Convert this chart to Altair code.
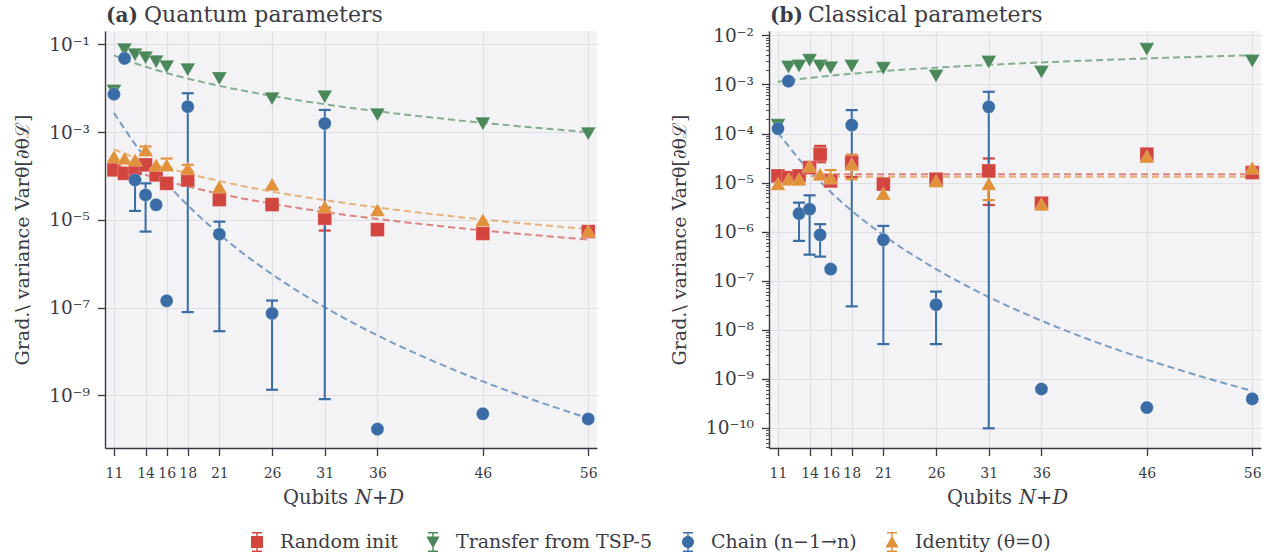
import altair as alt
import pandas as pd

# ---------------------------------------------------------------- data
QUBITS = [11, 12, 13, 14, 15, 16, 18, 21, 26, 31, 36, 46, 56]
X_TICKS = [11, 14, 16, 18, 21, 26, 31, 36, 46, 56]
FIT_QUBITS = [11, 13, 16, 21, 26, 31, 36, 41, 46, 51, 56]

METHODS = ["Random init", "Transfer from TSP-5", "Chain (n−1→n)", "Identity (θ=0)"]

# (a) quantum parameters: gradient variance per qubit count
A_RANDOM = [1.38e-4, 1.15e-4, 1.50e-4, 1.79e-4, 1.06e-4, 6.8e-5, 8.1e-5, 2.9e-5, 2.23e-5, 1.09e-5, 6.0e-6, 4.9e-6, 5.4e-6]
A_TRANSFER = [8.7e-3, 0.0757, 0.0582, 0.0498, 0.0404, 0.0310, 0.0265, 0.0166, 5.8e-3, 6.4e-3, 2.5e-3, 1.56e-3, 9.2e-4]
A_CHAIN = [7.3e-3, 0.048, 8.1e-5, 3.7e-5, 2.2e-5, 1.43e-7, 3.8e-3, 4.7e-6, 7.4e-8, 1.58e-3, 1.7e-10, 3.8e-10, 2.9e-10]
A_IDENTITY = [2.77e-4, 2.53e-4, 2.33e-4, 3.9e-4, 1.79e-4, 1.79e-4, 1.50e-4, 5.7e-5, 6.5e-5, 2.0e-5, 1.69e-5, 1.0e-5, 5.6e-6]

# error bars as (qubits, low, high)
A_RANDOM_ERR = [(31, 5.7e-6, 1.9e-5)]
A_TRANSFER_ERR = []
A_CHAIN_ERR = [(13, 1.6e-5, 1.1e-4), (14, 5.4e-6, 6.8e-5), (18, 7.9e-8, 7.7e-3),
               (21, 2.9e-8, 9.1e-6), (26, 1.34e-9, 1.45e-7), (31, 8.2e-10, 3.2e-3)]
A_IDENTITY_ERR = [(14, 3.2e-4, 4.7e-4), (16, 1.5e-4, 2.5e-4), (18, 1.3e-4, 1.8e-4)]

# fitted trends, sampled at FIT_QUBITS
A_RANDOM_FIT = [1.92e-4, 1.27e-4, 7.66e-5, 3.94e-5, 2.33e-5, 1.51e-5, 1.05e-5, 7.63e-6, 5.75e-6, 4.47e-6, 3.56e-6]
A_TRANSFER_FIT = [0.0562, 0.0372, 0.0222, 0.01135, 6.68e-3, 4.32e-3, 2.99e-3, 2.17e-3, 1.63e-3, 1.26e-3, 1.00e-3]
A_CHAIN_FIT = [2.75e-3, 5.32e-4, 6.87e-5, 4.72e-6, 5.75e-7, 1.02e-7, 2.33e-8, 6.48e-9, 2.08e-9, 7.55e-10, 3.01e-10]
A_IDENTITY_FIT = [4.04e-4, 2.63e-4, 1.54e-4, 7.67e-5, 4.42e-5, 2.82e-5, 1.92e-5, 1.37e-5, 1.02e-5, 7.84e-6, 6.17e-6]

# (b) classical parameters
B_RANDOM = [1.37e-5, 1.26e-5, 1.37e-5, 2.02e-5, 3.8e-5, 1.08e-5, 2.55e-5, 9.3e-6, 1.17e-5, 1.73e-5, 3.8e-6, 3.8e-5, 1.6e-5]
B_TRANSFER = [1.47e-4, 2.26e-3, 2.37e-3, 3.10e-3, 2.37e-3, 2.19e-3, 2.37e-3, 2.13e-3, 1.49e-3, 2.86e-3, 1.79e-3, 5.2e-3, 3.0e-3]
B_CHAIN = [1.26e-4, 1.17e-3, 2.34e-6, 2.87e-6, 8.6e-7, 1.73e-7, 1.49e-4, 6.8e-7, 3.24e-8, 3.5e-4, 6.2e-10, 2.6e-10, 3.9e-10]
B_IDENTITY = [9.5e-6, 1.17e-5, 1.17e-5, 2.19e-5, 1.48e-5, 1.26e-5, 2.37e-5, 6.0e-6, 1.08e-5, 9.5e-6, 3.6e-6, 3.4e-5, 2.0e-5]

B_RANDOM_ERR = [(15, 2.6e-5, 5.6e-5), (18, 1.3e-5, 3.5e-5), (31, 3.5e-6, 3.1e-5)]
B_TRANSFER_ERR = []
B_CHAIN_ERR = [(13, 6.5e-7, 3.9e-6), (14, 3.4e-7, 5.5e-6), (15, 3.1e-7, 1.42e-6), (18, 3.0e-8, 3.0e-4),
               (21, 5.1e-9, 1.31e-6), (26, 5.1e-9, 6.0e-8), (31, 9.8e-11, 7.1e-4)]
B_IDENTITY_ERR = [(16, 1.0e-5, 1.8e-5), (18, 1.17e-5, 3.7e-5), (31, 4.4e-6, 1.4e-5)]

B_RANDOM_FIT = [1.48e-5, 1.48e-5, 1.48e-5, 1.48e-5, 1.48e-5, 1.48e-5, 1.48e-5, 1.48e-5, 1.48e-5, 1.48e-5, 1.48e-5]
B_TRANSFER_FIT = [1.14e-3, 1.29e-3, 1.51e-3, 1.87e-3, 2.20e-3, 2.51e-3, 2.82e-3, 3.11e-3, 3.40e-3, 3.68e-3, 3.95e-3]
B_CHAIN_FIT = [1.05e-4, 3.02e-5, 6.43e-6, 8.47e-7, 1.73e-7, 4.65e-8, 1.53e-8, 5.79e-9, 2.46e-9, 1.14e-9, 5.68e-10]
B_IDENTITY_FIT = [1.32e-5, 1.32e-5, 1.32e-5, 1.32e-5, 1.32e-5, 1.32e-5, 1.32e-5, 1.32e-5, 1.32e-5, 1.32e-5, 1.32e-5]

# ---------------------------------------------------------------- style
FONT = "DejaVu Serif"
INK = "#3c3c46"
COLORS = ["#d2463f", "#4a885a", "#3a6da6", "#e0913a"]
SHAPES = ["square", "triangle-down", "circle", "triangle-up"]
SIZES = [190, 225, 170, 225]

# legend glyphs: marker with a capped error bar through it (unit box -1..1)
BAR = "M-0.5,-1H0.5V-0.86H-0.5Z M-0.5,0.86H0.5V1H-0.5Z M-0.07,-1H0.07V1H-0.07Z "
GLYPHS = [
    BAR + "M-0.6,-0.6H0.6V0.6H-0.6Z",
    BAR + "M-0.66,-0.55L0.66,-0.55L0,0.62Z",
    BAR + "M0.6,0A0.6,0.6 0 1,1 -0.6,0A0.6,0.6 0 1,1 0.6,0Z",
    BAR + "M0,-0.62L0.66,0.55L-0.66,0.55Z",
]

PLOT_W, PLOT_H = 492, 417
X_DOMAIN = [10.15, 56.83]

DECADE = "abs(log(datum.value)/LN10 - round(log(datum.value)/LN10)) < 0.001"
SUPS = "['⁰','⁻¹','⁻²','⁻³','⁻⁴','⁻⁵','⁻⁶','⁻⁷','⁻⁸','⁻⁹','⁻¹⁰','⁻¹¹']"
LABEL_EXPR = f"{DECADE} ? '10' + {SUPS}[-round(log(datum.value)/LN10)] : ''"

Y_TITLE = "Grad.\\ variance Varθ[∂θℒ]"


def long_table(q, series):
    rows = []
    for method, values in zip(METHODS, series):
        for x, v in zip(q, values):
            rows.append({"q": x, "v": v, "method": method})
    return pd.DataFrame(rows)


def text_layer(text, x, y, size, align="left", weight="normal", style="normal"):
    return (
        alt.Chart(alt.Data(values=[{"t": text}]))
        .mark_text(align=align, baseline="alphabetic", font=FONT, fontSize=size,
                   fontWeight=weight, fontStyle=style, color=INK)
        .encode(x=alt.value(x), y=alt.value(y), text="t:N")
    )


def panel(tag, name, series, errors, fits, y_domain, y_values, minor):
    x_enc = alt.X(
        "q:Q",
        scale=alt.Scale(domain=X_DOMAIN, nice=False, zero=False),
        axis=alt.Axis(values=X_TICKS, format="d", title=None,
                      labelFont=FONT, labelOverlap=False, labelFlush=False,
                      labelFontSize=14, labelPadding=11, tickSize=7.5),
    )
    y_axis = dict(values=y_values, labelExpr=LABEL_EXPR, title=Y_TITLE,
                  labelFont=FONT, titleFont=FONT,
                  labelOverlap=False, labelFontSize=18.5, labelPadding=8,
                  titlePadding=16, titleFontSize=19)
    if minor:
        y_axis["tickSize"] = {"condition": {"test": DECADE, "value": 7.5}, "value": 3.5}
        y_axis["tickWidth"] = {"condition": {"test": DECADE, "value": 1.3}, "value": 0.9}
        y_axis["gridOpacity"] = {"condition": {"test": DECADE, "value": 1}, "value": 0}
    else:
        y_axis["tickSize"] = 7.5
    y_enc = alt.Y("v:Q", scale=alt.Scale(type="log", domain=y_domain, nice=False),
                  axis=alt.Axis(**y_axis))

    fit_df = long_table(FIT_QUBITS, fits)
    pts_df = long_table(QUBITS, series)
    err_rows, cap_rows = [], []
    for method, errs in zip(METHODS, errors):
        for x, lo, hi in errs:
            err_rows.append({"q": x, "v": lo, "v2": hi, "method": method})
            cap_rows.append({"q": x, "v": lo, "method": method})
            cap_rows.append({"q": x, "v": hi, "method": method})
    err_df = pd.DataFrame(err_rows, columns=["q", "v", "v2", "method"])
    cap_df = pd.DataFrame(cap_rows, columns=["q", "v", "method"])

    layers = []
    for method, color in zip(METHODS, COLORS):
        layers.append(
            alt.Chart(fit_df).transform_filter(alt.datum.method == method)
            .mark_line(color=color, strokeWidth=2, strokeDash=[7, 4], opacity=0.65,
                       interpolate="monotone", clip=True)
            .encode(x=x_enc, y=y_enc)
        )
    for method, color in zip(METHODS, COLORS):
        layers.append(
            alt.Chart(err_df).transform_filter(alt.datum.method == method)
            .mark_rule(color=color, strokeWidth=2)
            .encode(x=x_enc, y=y_enc, y2="v2:Q")
        )
        layers.append(
            alt.Chart(cap_df).transform_filter(alt.datum.method == method)
            .mark_tick(color=color, orient="horizontal", size=12, thickness=2.2, opacity=1)
            .encode(x=x_enc, y=y_enc)
        )
    for method, color, shape, size in zip(METHODS, COLORS, SHAPES, SIZES):
        layers.append(
            alt.Chart(pts_df).transform_filter(alt.datum.method == method)
            .mark_point(filled=True, color=color, shape=shape, size=size, opacity=1,
                        stroke="white", strokeWidth=0.4, strokeOpacity=0.6)
            .encode(x=x_enc, y=y_enc)
        )

    # panel heading: bold tag, then the name
    layers.append(text_layer(tag, 1, -9, 20, weight="bold"))
    layers.append(text_layer(name, 39, -9, 22))
    # x-axis title with the italic qubit count symbol
    layers.append(text_layer("Qubits", PLOT_W / 2 - 3, PLOT_H + 56, 19.5, align="right"))
    layers.append(text_layer("N+D", PLOT_W / 2 + 4, PLOT_H + 56, 19.5, style="italic"))
    return alt.layer(*layers).properties(width=PLOT_W, height=PLOT_H)


A_TICKS = [1e-9, 1e-7, 1e-5, 1e-3, 1e-1]
B_TICKS = [m * 10.0 ** k for k in range(-11, -1) for m in range(1, 10)
           if 10 ** -10.41 <= m * 10.0 ** k <= 10 ** -1.91]

left = panel("(a)", "Quantum parameters",
             [A_RANDOM, A_TRANSFER, A_CHAIN, A_IDENTITY],
             [A_RANDOM_ERR, A_TRANSFER_ERR, A_CHAIN_ERR, A_IDENTITY_ERR],
             [A_RANDOM_FIT, A_TRANSFER_FIT, A_CHAIN_FIT, A_IDENTITY_FIT],
             [10 ** -10.2, 10 ** -0.695], A_TICKS, False)

right = panel("(b)", "Classical parameters",
              [B_RANDOM, B_TRANSFER, B_CHAIN, B_IDENTITY],
              [B_RANDOM_ERR, B_TRANSFER_ERR, B_CHAIN_ERR, B_IDENTITY_ERR],
              [B_RANDOM_FIT, B_TRANSFER_FIT, B_CHAIN_FIT, B_IDENTITY_FIT],
              [10 ** -10.41, 10 ** -1.91], B_TICKS, True)

# shared legend, driven by an empty layer so the data markers keep plain shapes
legend_layer = (
    alt.Chart(pd.DataFrame({"q": [11.0], "v": [1e-5], "method": [METHODS[0]]}))
    .transform_filter("false")
    .mark_point(filled=True, opacity=1)
    .encode(
        x=alt.X("q:Q"),
        y=alt.Y("v:Q"),
        color=alt.Color("method:N", scale=alt.Scale(domain=METHODS, range=COLORS),
                        legend=alt.Legend(title=None)),
        shape=alt.Shape("method:N", scale=alt.Scale(domain=METHODS, range=GLYPHS),
                        legend=alt.Legend(title=None)),
    )
)
right = alt.layer(right, legend_layer)

chart = (
    alt.hconcat(left, right, spacing=72)
    .properties(padding={"left": 13, "top": 4, "right": 10, "bottom": 4})
    .configure(font=FONT, background="white")
    .configure_view(fill="#f3f3f6", stroke=None)
    .configure_axis(
        labelFont=FONT, titleFont=FONT, labelColor=INK, titleColor=INK,
        titleFontWeight="normal", domainColor="#3a3a44", domainWidth=1.4,
        tickColor="#3a3a44", tickWidth=1.3, gridColor="#dedee3", gridWidth=1.1,
    )
    .configure_legend(
        orient="none", legendX=142, legendY=501, direction="horizontal", columns=4,
        labelFont=FONT, labelFontSize=19, labelColor=INK, labelLimit=0, symbolSize=400,
        labelOffset=13, columnPadding=25, symbolStrokeWidth=0,
    )
)

chart.save("out.html", embed_options={"renderer": "svg", "actions": False})
